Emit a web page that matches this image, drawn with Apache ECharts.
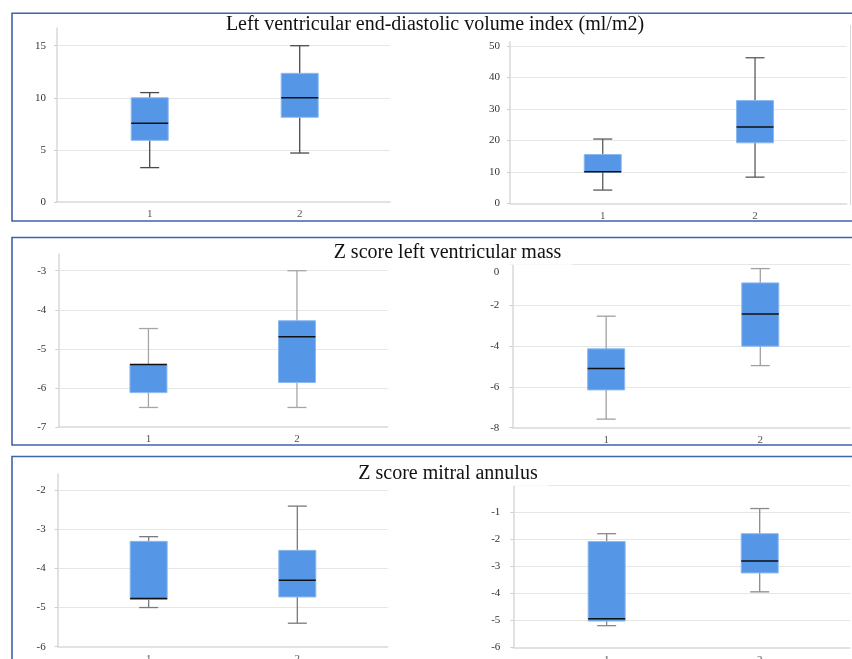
<!DOCTYPE html>
<html><head><meta charset="utf-8">
<script src="https://cdn.jsdelivr.net/npm/echarts@6/dist/echarts.min.js"></script>
<style>html,body{margin:0;padding:0;background:#fff}#c{width:852px;height:659px}</style>
</head><body><div id="c"></div>
<script>
// Group positions and their tick labels
const groups = [1, 2];
const xLabels = ['1', '2'];

// Box values per group: [min, Q1, median, Q3, max]
const lvedviLeft  = [[3.3, 5.92, 7.55, 10.0, 10.5], [4.7, 8.13, 10.0, 12.35, 15.0]];
const lvedviRight = [[4.2, 9.9, 10.0, 15.5, 20.4], [8.3, 19.2, 24.2, 32.6, 46.2]];
const lvmLeft     = [[-6.5, -6.12, -5.4, -5.4, -4.48], [-6.5, -5.86, -4.69, -4.28, -3.0]];
const lvmRight    = [[-7.58, -6.15, -5.1, -4.14, -2.54], [-4.96, -4.01, -2.43, -0.91, -0.21]];
const maLeft      = [[-5.0, -4.79, -4.77, -3.31, -3.19], [-5.4, -4.73, -4.3, -3.54, -2.41]];
const maRight     = [[-5.2, -5.03, -4.94, -2.09, -1.8], [-3.95, -3.25, -2.81, -1.8, -0.87]];

const titles = [
  'Left ventricular end-diastolic volume index (ml/m2)',
  'Z score left ventricular mass',
  'Z score mitral annulus'
];

// Layout / style per sub-chart
const charts = [
  {data: lvedviLeft,  grid:{left:57,   top:28,    width:333,   height:174},   x:[0.382,2.602], y:[0,16.7],   iv:5,  lm:11, maxLine:false, maxLabel:false, wc:'#4a4a4a'},
  {data: lvedviRight, grid:{left:510,  top:41.7,  width:336.7, height:161.6}, x:[0.391,2.602], y:[0,51.3],   iv:10, lm:10, maxLine:false, maxLabel:false, wc:'#5a5a5a'},
  {data: lvmLeft,     grid:{left:58.3, top:254.3, width:329.4, height:172.7}, x:[0.393,2.611], y:[-7,-2.58], iv:1,  lm:12, maxLine:false, maxLabel:false, wc:'#a6a6a6'},
  {data: lvmRight,    grid:{left:512.3,top:264.3, width:337.7, height:163.4}, x:[0.391,2.582], y:[-8,0],     iv:2,  lm:13, maxLine:true,  maxLabel:true,  wc:'#a0a0a0'},
  {data: maLeft,      grid:{left:57.7, top:474,   width:330,   height:172.7}, x:[0.388,2.608], y:[-6,-1.59], iv:1,  lm:12, maxLine:false, maxLabel:false, wc:'#7a7a7a'},
  {data: maRight,     grid:{left:513.3,top:485,   width:336.7, height:162.3}, x:[0.39,2.59],   y:[-6,0],     iv:1,  lm:13, maxLine:true,  maxLabel:false, wc:'#8a8a8a'}
];

const FONT = '"Liberation Serif", "Times New Roman", serif';
const BOX_HALF = 18.5, CAP_HALF = 9.5;

function makeRender(wc) {
  return function (params, api) {
    const x = api.value(0);
    const pMin = api.coord([x, api.value(1)]);
    const pQ1  = api.coord([x, api.value(2)]);
    const pMed = api.coord([x, api.value(3)]);
    const pQ3  = api.coord([x, api.value(4)]);
    const pMax = api.coord([x, api.value(5)]);
    const cx = pMin[0];
    const wStyle = {stroke: wc, lineWidth: 1.3, fill: null};
    return {
      type: 'group',
      children: [
        {type:'line', shape:{x1:cx, y1:pMax[1], x2:cx, y2:pMin[1]}, style:wStyle},
        {type:'line', shape:{x1:cx-CAP_HALF, y1:pMax[1], x2:cx+CAP_HALF, y2:pMax[1]}, style:wStyle},
        {type:'line', shape:{x1:cx-CAP_HALF, y1:pMin[1], x2:cx+CAP_HALF, y2:pMin[1]}, style:wStyle},
        {type:'rect', shape:{x:cx-BOX_HALF, y:pQ3[1], width:BOX_HALF*2, height:pQ1[1]-pQ3[1]},
          style:{fill:'#5596e6', stroke:'#8bb9f0', lineWidth:1}},
        {type:'line', shape:{x1:cx-BOX_HALF, y1:pMed[1], x2:cx+BOX_HALF, y2:pMed[1]},
          style:{stroke:'#111', lineWidth:1.5}}
      ]
    };
  };
}

const grid = [], xAxis = [], yAxis = [], series = [];
charts.forEach((c, i) => {
  grid.push(Object.assign({outerBoundsMode:'none', containLabel:false}, c.grid));
  xAxis.push({
    type:'value', gridIndex:i, min:c.x[0], max:c.x[1],
    axisLine:{show:true, onZero:false, lineStyle:{color:'#d9d9d9', width:1.5}},
    axisTick:{show:false}, splitLine:{show:false},
    axisLabel:{customValues:groups, formatter:(v)=>xLabels[groups.indexOf(v)] || '',
      fontFamily:FONT, fontSize:11, color:'#555', margin:7}
  });
  yAxis.push({
    type:'value', gridIndex:i, min:c.y[0], max:c.y[1], interval:c.iv,
    axisLine:{show:true, onZero:false, lineStyle:{color:'#d9d9d9', width:1.5}},
    axisTick:{show:true, length:3, lineStyle:{color:'#cfcfcf'}},
    splitLine:{show:true, showMinLine:false, showMaxLine:c.maxLine, lineStyle:{color:'#e6e6e6', width:1}},
    axisLabel:{showMaxLabel:c.maxLabel, showMinLabel:true, fontFamily:FONT, fontSize:11, color:'#333', margin:c.lm,
      formatter:(v)=> (c.maxLabel && v === c.y[1]) ? '{low|' + v + '}' : String(v),
      rich:{low:{fontFamily:FONT, fontSize:11, color:'#333', padding:[15,0,0,0]}}}
  });
  series.push({
    type:'custom', xAxisIndex:i, yAxisIndex:i, clip:false,
    encode:{x:0, y:[1,2,3,4,5]},
    data: c.data.map((d, k) => [groups[k]].concat(d)),
    renderItem: makeRender(c.wc)
  });
});

const titlePos = [[435, 25], [447.5, 252.3], [448, 473.3]];
const panelRects = [[12, 13.3, 860, 207.7], [12, 237.5, 860, 207.5], [12, 456.5, 860, 300]];
const graphic = [];
panelRects.forEach(r => graphic.push({
  type:'rect', z:60, silent:true,
  shape:{x:r[0], y:r[1], width:r[2], height:r[3]},
  style:{fill:null, stroke:'#4063ab', lineWidth:1.6}
}));
graphic.push({type:'line', z:40, silent:true, shape:{x1:850.5, y1:25, x2:850.5, y2:205},
  style:{stroke:'#d6d6d6', lineWidth:1}});
titles.forEach((t, i) => graphic.push({
  type:'text', z:50, silent:true, x:titlePos[i][0], y:titlePos[i][1],
  style:{text:t, font:'20px ' + FONT, fill:'#111', align:'center', verticalAlign:'middle',
    textAlign:'center', textVerticalAlign:'middle', backgroundColor:'#fff', padding:[2, 11, 3, 11]}
}));

const chart = echarts.init(document.getElementById('c'), null, {renderer:'canvas'});
chart.setOption({
  animation:false, backgroundColor:'#fff',
  grid, xAxis, yAxis, series, graphic
});
</script>
</body></html>
